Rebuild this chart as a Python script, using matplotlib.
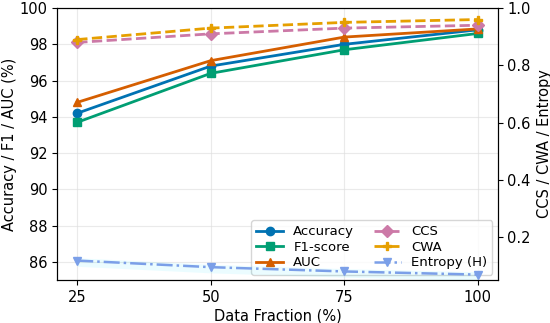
import numpy as np
import matplotlib
matplotlib.use("Agg")
import matplotlib.pyplot as plt

fraction = [25, 50, 75, 100]
accuracy = [94.2, 96.8, 98.0, 98.8]
f1 = [93.7, 96.4, 97.7, 98.6]
auc = [94.8, 97.1, 98.4, 98.85]
ccs = [0.88, 0.91, 0.93, 0.94]
cwa = [0.89, 0.93, 0.95, 0.96]
entropy = [0.118, 0.095, 0.080, 0.069]

fig, ax1 = plt.subplots(figsize=(5.5, 3.23), dpi=100)
ax2 = ax1.twinx()

l1, = ax1.plot(fraction, accuracy, '-o', color='#0072B2', lw=2, ms=6, label='Accuracy')
l2, = ax1.plot(fraction, f1, '-s', color='#009E73', lw=2, ms=6, label='F1-score')
l3, = ax1.plot(fraction, auc, '-^', color='#D55E00', lw=2, ms=6, label='AUC')

l4, = ax2.plot(fraction, ccs, '--D', color='#CC79A7', lw=2, ms=6, label='CCS')
l5, = ax2.plot(fraction, cwa, '--P', color='#E69F00', lw=2, ms=6, label='CWA')
l6, = ax2.plot(fraction, entropy, '-.v', color='#7B9FE8', lw=1.8, ms=6, label='Entropy (H)')
ent = np.array(entropy)
ax2.fill_between(fraction, ent - 0.02, ent + 0.01, color='#00E5FF', alpha=0.08, lw=0)

ax1.set_ylim(85, 100)
ax2.set_ylim(0.05, 1.0)
ax1.set_xticks(fraction)
ax1.set_yticks([86, 88, 90, 92, 94, 96, 98, 100])
ax2.set_yticks([0.2, 0.4, 0.6, 0.8, 1.0])
ax1.grid(True, color='#dddddd', alpha=0.6, lw=0.8)
ax1.set_xlabel('Data Fraction (%)', fontsize=10.5, labelpad=3)
ax1.set_ylabel('Accuracy / F1 / AUC (%)', fontsize=10.5, labelpad=2)
ax2.set_ylabel('CCS / CWA / Entropy', fontsize=10.5, labelpad=4)
ax1.tick_params(labelsize=10.5)
ax2.tick_params(labelsize=10.5)

ax1.legend([l1, l2, l3, l4, l5, l6], [h.get_label() for h in [l1, l2, l3, l4, l5, l6]],
           loc='lower right', ncol=2, fontsize=9.5, framealpha=0.8,
           handlelength=2, columnspacing=1.5, labelspacing=0.2, borderaxespad=0.4)

plt.subplots_adjust(left=0.104, right=0.905, top=0.975, bottom=0.133)
plt.savefig('out.png')
